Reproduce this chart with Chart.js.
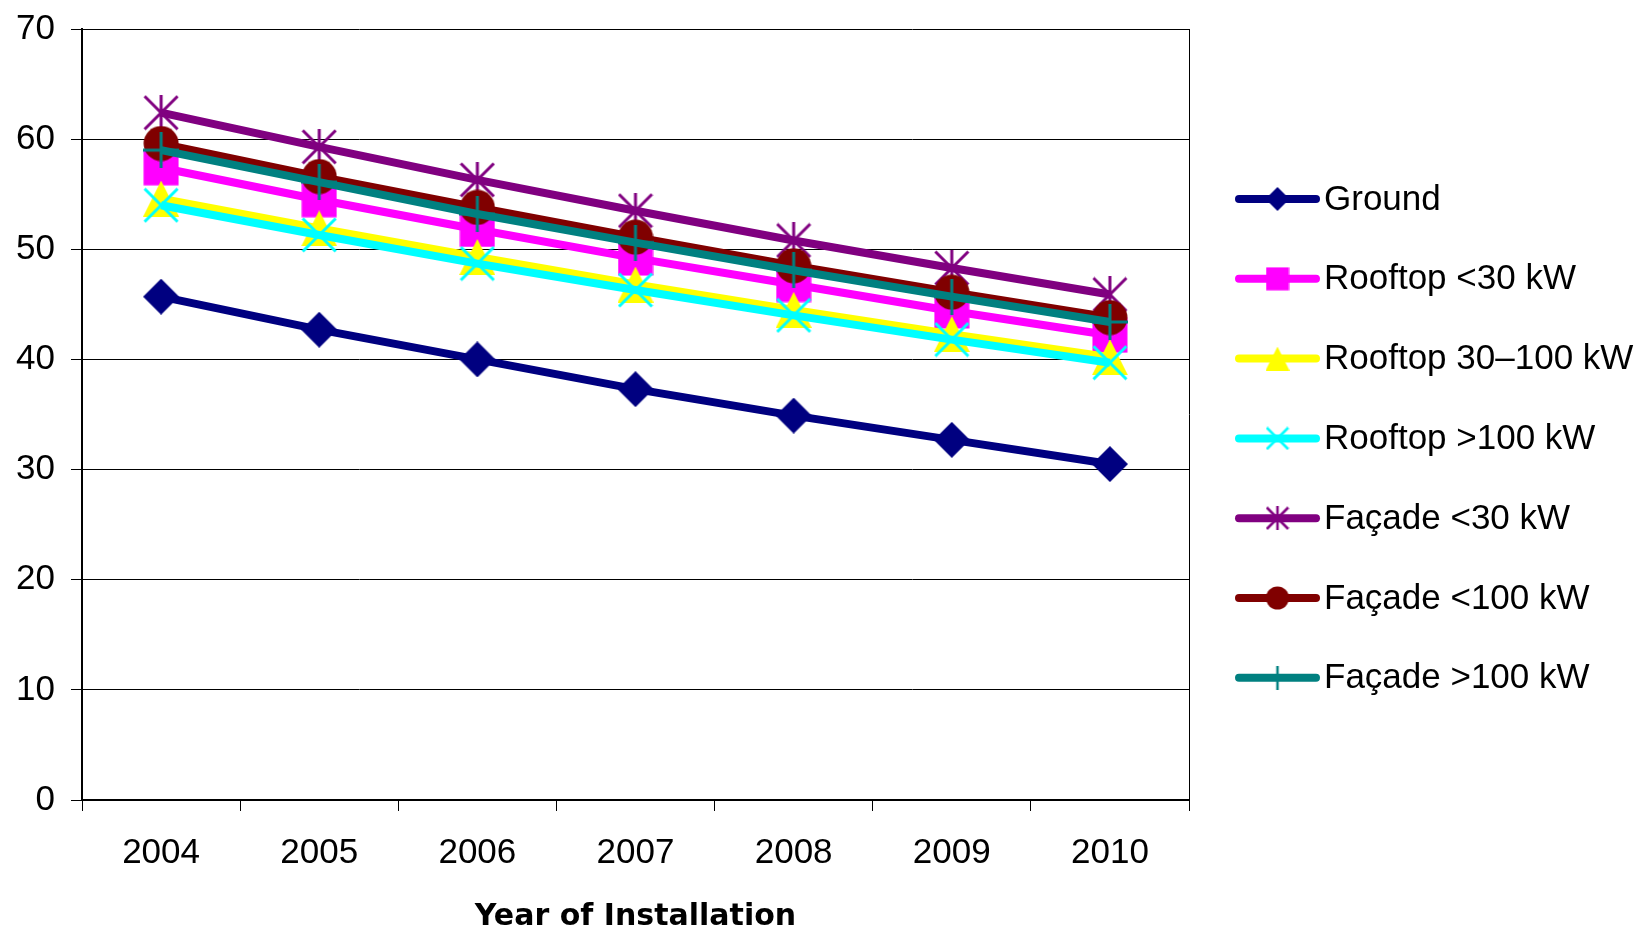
<!DOCTYPE html>
<html>
<head>
<meta charset="utf-8">
<title>Feed-in tariff by year of installation</title>
<script src="https://cdn.jsdelivr.net/npm/chart.js@4/dist/chart.umd.min.js"></script>
<style>
  html, body { margin: 0; padding: 0; background: #fff; }
  #wrap { width: 1642px; height: 929px; }
</style>
</head>
<body>
<div id="wrap"><canvas id="tariffChart" width="1642" height="929"></canvas></div>
<script>
// --- data ---
const years = ['2004', '2005', '2006', '2007', '2008', '2009', '2010'];

const ground        = [45.7, 42.7, 40.0, 37.3, 34.9, 32.7, 30.5];
const rooftopSmall  = [57.4, 54.5, 51.8, 49.2, 46.8, 44.4, 42.2];
const rooftopMid    = [54.6, 51.9, 49.3, 46.8, 44.5, 42.3, 40.2];
const rooftopLarge  = [54.0, 51.3, 48.7, 46.3, 44.0, 41.8, 39.7];
const facadeSmall   = [62.4, 59.3, 56.3, 53.5, 50.8, 48.3, 45.9];
const facadeMid     = [59.6, 56.6, 53.8, 51.1, 48.5, 46.1, 43.8];
const facadeLarge   = [59.0, 56.1, 53.2, 50.6, 48.1, 45.7, 43.4];

const seriesNames = ['Ground', 'Rooftop <30 kW', 'Rooftop 30\u2013100 kW', 'Rooftop >100 kW',
                     'Fa\u00e7ade <30 kW', 'Fa\u00e7ade <100 kW', 'Fa\u00e7ade >100 kW'];
const seriesData = [ground, rooftopSmall, rooftopMid, rooftopLarge, facadeSmall, facadeMid, facadeLarge];
const seriesColors = ['#000080', '#FF00FF', '#FFFF00', '#00FFFF', '#800080', '#800000', '#008080'];
const seriesShapes = ['diamond', 'square', 'triangle', 'x', 'star', 'circle', 'plus'];

const yTicks = { min: 0, max: 70, step: 10 };
const xTitle = 'Year of Installation';

const FONT = 'Liberation Sans, Arial, sans-serif';

// Excel-style markers drawn into small canvases, used as pointStyle
function makeMarker(shape, color, size) {
    const c = document.createElement('canvas');
    c.width = size;
    c.height = size;
    const g = c.getContext('2d');
    const h = size / 2;
    const lw = size > 28 ? 3 : 2.5;
    const e = lw / 2;
    g.fillStyle = color;
    g.strokeStyle = color;
    g.lineWidth = lw;
    g.beginPath();
    switch (shape) {
        case 'diamond':
            g.moveTo(h, 0); g.lineTo(size, h); g.lineTo(h, size); g.lineTo(0, h);
            g.closePath(); g.fill();
            break;
        case 'square':
            g.fillRect(0.5, 0.5, size - 1, size - 1);
            break;
        case 'triangle':
            g.moveTo(h, 0); g.lineTo(size, size); g.lineTo(0, size);
            g.closePath(); g.fill();
            break;
        case 'circle':
            g.arc(h, h, h - 0.5, 0, Math.PI * 2); g.fill();
            break;
        case 'x':
            g.moveTo(e, e); g.lineTo(size - e, size - e);
            g.moveTo(size - e, e); g.lineTo(e, size - e);
            g.stroke();
            break;
        case 'star':
            g.moveTo(e, e); g.lineTo(size - e, size - e);
            g.moveTo(size - e, e); g.lineTo(e, size - e);
            g.moveTo(h, 0); g.lineTo(h, size);
            g.stroke();
            break;
        case 'plus':
            g.moveTo(h, 0); g.lineTo(h, size);
            g.moveTo(0, h); g.lineTo(size, h);
            g.stroke();
            break;
    }
    return c;
}

const chartMarkers = seriesShapes.map((s, i) => makeMarker(s, seriesColors[i], 36));
const legendMarkers = seriesShapes.map((s, i) => makeMarker(s, seriesColors[i], 24));

// frame round the plot area (right side), like the Excel plot area border
const plotBorder = {
    id: 'plotBorder',
    beforeDatasetsDraw(chart) {
        const { ctx, chartArea } = chart;
        ctx.save();
        ctx.strokeStyle = '#000';
        ctx.lineWidth = 1;
        const r = Math.round(chartArea.right) + 0.5;
        ctx.beginPath();
        ctx.moveTo(r, chartArea.top);
        ctx.lineTo(r, chartArea.bottom);
        ctx.stroke();
        ctx.restore();
    }
};

// legend on the right: line sample + marker + label
const sideLegend = {
    id: 'sideLegend',
    afterDraw(chart) {
        const ctx = chart.ctx;
        const x0 = 1239, x1 = 1316, textX = 1324;
        const top = 199, gap = 79.8;
        ctx.save();
        ctx.font = '35px ' + FONT;
        ctx.textBaseline = 'middle';
        ctx.textAlign = 'left';
        seriesNames.forEach((name, i) => {
            const y = top + gap * i;
            ctx.strokeStyle = seriesColors[i];
            ctx.lineWidth = 8;
            ctx.lineCap = 'round';
            ctx.beginPath();
            ctx.moveTo(x0, y);
            ctx.lineTo(x1, y);
            ctx.stroke();
            const m = legendMarkers[i];
            ctx.drawImage(m, (x0 + x1) / 2 - m.width / 2, y - m.height / 2);
            ctx.fillStyle = '#000';
            ctx.fillText(name, textX, y + 1);
        });
        ctx.restore();
    }
};

const datasets = seriesNames.map((name, i) => ({
    label: name,
    data: seriesData[i],
    borderColor: seriesColors[i],
    backgroundColor: seriesColors[i],
    borderWidth: 8,
    pointStyle: chartMarkers[i],
    pointRadius: 18,
    pointHoverRadius: 18,
    tension: 0,
    fill: false,
    order: seriesNames.length - i   // later series on top, as in Excel
}));

const ctx = document.getElementById('tariffChart').getContext('2d');
const tariffChart = new Chart(ctx, {
    type: 'line',
    data: { labels: years, datasets: datasets },
    options: {
        responsive: false,
        animation: false,
        layout: { padding: { left: 0, right: 1642 - 1189, top: 29, bottom: 0 } },
        plugins: {
            legend: { display: false },
            tooltip: { enabled: false }
        },
        scales: {
            x: {
                offset: true,
                grid: { offset: true, drawOnChartArea: false, tickLength: 11, color: '#000', lineWidth: 1 },
                border: { color: '#000', width: 2 },
                ticks: { font: { family: FONT, size: 35 }, color: '#000', padding: 21, maxRotation: 0 },
                title: {
                    display: true,
                    text: xTitle,
                    color: '#000',
                    font: { family: 'DejaVu Sans', size: 30, weight: 'bold', lineHeight: 1 },
                    padding: { top: 0, bottom: -3 }
                },
                afterFit(scale) { scale.height = 129; }
            },
            y: {
                min: yTicks.min,
                max: yTicks.max,
                ticks: { stepSize: yTicks.step, font: { family: FONT, size: 35 }, color: '#000', padding: 16 },
                grid: { color: '#000', lineWidth: 1, tickLength: 11 },
                border: { color: '#000', width: 2 },
                afterFit(scale) {
                    scale.width = 82;
                    scale.paddingTop = 0;   // let the plot start right at the layout padding
                }
            }
        }
    },
    plugins: [plotBorder, sideLegend]
});
</script>
</body>
</html>
